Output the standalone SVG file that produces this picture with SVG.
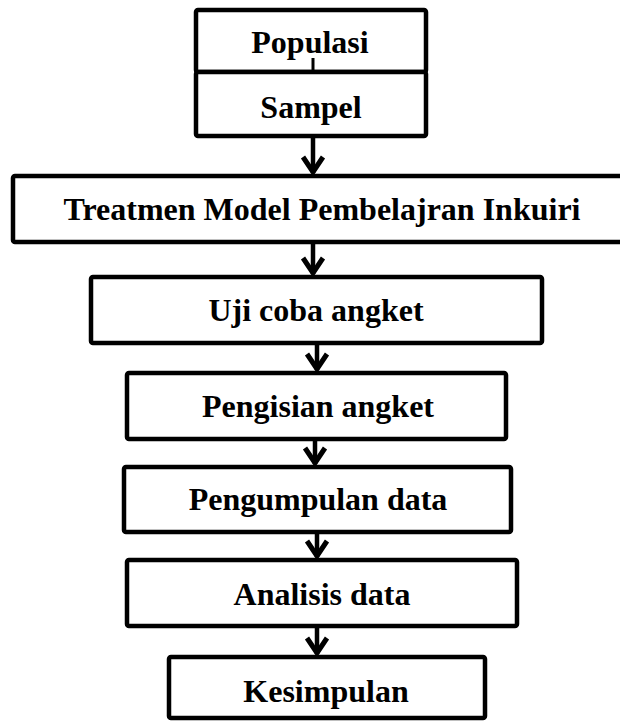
<svg xmlns="http://www.w3.org/2000/svg" width="620" height="721" viewBox="0 0 620 721">
<style>
.box{fill:#fff;stroke:#000;stroke-width:4.5}
.lbl{font-family:"Liberation Serif","Times New Roman",serif;font-weight:bold;font-size:32px;fill:#000;text-anchor:middle}
.conn{stroke:#000;stroke-width:4.5;fill:none}
</style>
<defs>
<marker id="chev" markerUnits="userSpaceOnUse" orient="auto" refX="0" refY="0" markerWidth="40" markerHeight="40" viewBox="-20 -20 40 40" overflow="visible">
<path d="M-16,-10 L-1,0 L-16,10" fill="none" stroke="#000" stroke-width="5" stroke-linejoin="miter"/>
</marker>
</defs>
<rect width="620" height="721" fill="#fff"/>
<g id="populasi"><rect class="box" x="196" y="10" width="230" height="62" rx="2"/><text class="lbl" x="310" y="53">Populasi</text></g>
<g id="sampel"><rect class="box" x="196" y="72" width="230" height="64" rx="2"/><text class="lbl" x="311" y="118">Sampel</text></g>
<g id="treatmen"><rect class="box" x="13" y="176" width="625" height="66" rx="2"/><text class="lbl" x="322" y="220">Treatmen Model Pembelajran Inkuiri</text></g>
<g id="ujicoba"><rect class="box" x="91" y="277" width="451" height="66" rx="2"/><text class="lbl" x="316" y="321">Uji coba angket</text></g>
<g id="pengisian"><rect class="box" x="127" y="373" width="379" height="66" rx="2"/><text class="lbl" x="318" y="417">Pengisian angket</text></g>
<g id="pengumpulan"><rect class="box" x="124" y="467" width="387" height="65" rx="2"/><text class="lbl" x="318" y="510">Pengumpulan data</text></g>
<g id="analisis"><rect class="box" x="127" y="560" width="390" height="66" rx="2"/><text class="lbl" x="322" y="605">Analisis data</text></g>
<g id="kesimpulan"><rect class="box" x="169" y="657" width="316" height="61" rx="2"/><text class="lbl" x="326" y="702">Kesimpulan</text></g>
<g id="connectors">
<line x1="313" y1="58" x2="313" y2="72" stroke="#000" stroke-width="3"/>
<line class="conn" x1="313" y1="138" x2="313" y2="173" marker-end="url(#chev)"/>
<line class="conn" x1="313" y1="244" x2="313" y2="274" marker-end="url(#chev)"/>
<line class="conn" x1="317" y1="345" x2="317" y2="370" marker-end="url(#chev)"/>
<line class="conn" x1="315" y1="441" x2="315" y2="464" marker-end="url(#chev)"/>
<line class="conn" x1="317" y1="534" x2="317" y2="557" marker-end="url(#chev)"/>
<line class="conn" x1="317" y1="628" x2="317" y2="654" marker-end="url(#chev)"/>
</g>
</svg>
